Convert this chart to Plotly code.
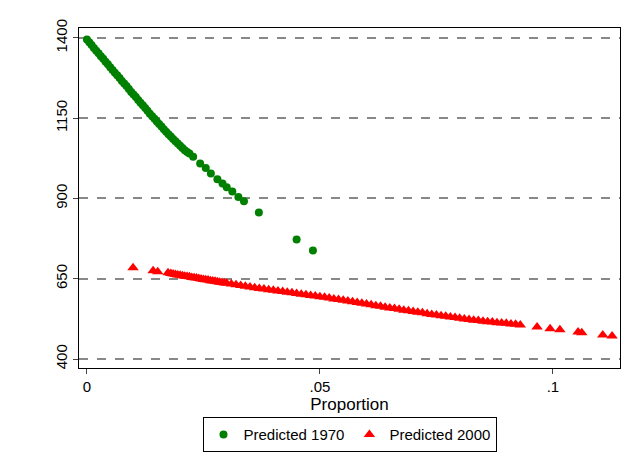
import plotly.graph_objects as go

g_x = [0,0.0005,0.001,0.0015,0.002,0.0025,0.003,0.0035,0.004,0.0045,0.005,0.0055,0.006,0.0065,0.007,0.0075,0.008,0.0085,0.009,0.0095,0.010,0.0105,0.011,0.0115,0.012,0.0125,0.013,0.0135,0.014,0.0145,0.015,0.0155,0.016,0.0165,0.017,0.0175,0.018,0.0185,0.019,0.0195,0.020,0.0205,0.021,0.0215,0.022,0.0228,0.0243,0.0255,0.0266,0.028,0.0291,0.030,0.0312,0.0325,0.0337,0.0369,0.045,0.0485]
g_y = [1395,1387,1378,1369,1360,1352,1343,1335,1326,1318,1309,1300,1292,1284,1275,1266,1258,1250,1241,1232,1224,1216,1207,1198,1190,1182,1173,1164,1156,1148,1140,1132,1124,1116,1108,1100,1093,1085,1078,1071,1064,1057,1050,1045,1040,1030,1009,995,978,960,947,935,922,905,891,856,772,738]

r_x = [0.0099,0.0142,0.0152,0.0174,
0.018,0.0185,0.019,0.0195,0.020,0.0205,0.021,0.0215,0.022,0.0225,0.023,0.0235,0.024,0.0245,0.025,0.0255,0.026,0.0265,0.027,0.0275,0.028,0.0285,0.029,0.0295,0.030,0.031,0.032,0.033,0.034,0.035,0.036,0.037,0.038,0.039,0.040,0.041,0.042,0.043,0.044,0.045,0.046,0.047,0.048,0.049,0.050,0.051,0.052,0.053,0.054,0.055,0.056,0.057,0.058,0.059,0.060,0.061,0.062,0.063,0.064,0.065,0.066,0.067,0.068,0.069,0.070,0.071,0.072,0.073,0.074,0.075,0.076,0.077,0.078,0.079,0.080,0.081,0.082,0.083,0.084,0.085,0.086,0.087,0.088,0.089,0.090,0.091,0.092,0.093,
0.0966,0.0994,0.1015,0.1054,0.1062,0.1107,0.1127]
r_y = [684,675,672,669,
666,665,663,662,661,659,658,657,656,654,653,652,651,649,648,647,646,644,643,642,641,639,638,637,636,634,631,629,627,624,622,620,618,616,614,612,610,608,606,604,602,600,598,596,594,592,590,587,585,583,581,578,576,574,571,569,566,564,561,559,557,555,552,550,548,546,544,541,539,537,535,533,531,529,527,525,523,521,520,518,516,515,513,512,511,509,508,506,
500,494,491,484,482,475,472]

x_ticks = [0, 0.05, 0.1]
x_labels = ["0", ".05", ".1"]
y_ticks = [400, 650, 900, 1150, 1400]

fig = go.Figure()
fig.add_trace(go.Scatter(x=g_x, y=g_y, mode="markers", name="Predicted 1970",
                         marker=dict(color="#008000", size=8, symbol="circle")))
fig.add_trace(go.Scatter(x=r_x, y=r_y, mode="markers", name="Predicted 2000",
                         marker=dict(color="#ff0000", size=10, symbol="triangle-up")))
fig.update_layout(
    width=627, height=446, plot_bgcolor="white", paper_bgcolor="white",
    margin=dict(l=71, r=15, t=20, b=86, autoexpand=False),
    font=dict(family="Liberation Sans, Arial", size=14, color="black"),
    legend=dict(orientation="h", x=0.5, xanchor="center", y=-0.145, yanchor="top",
                bordercolor="black", borderwidth=1, font=dict(size=15),
                itemwidth=30, tracegroupgap=0),
    showlegend=True,
)
fig.update_xaxes(range=[-0.0017, 0.1144], tickvals=x_ticks, ticktext=x_labels,
                 ticks="outside", ticklen=5, showgrid=False, zeroline=False,
                 showline=True, linecolor="black", mirror=True, automargin=False,
                 tickfont=dict(size=15),
                 title=dict(text="Proportion", standoff=0))
fig.update_yaxes(range=[372, 1431], tickvals=y_ticks, tickangle=-90,
                 ticks="outside", ticklen=5, showgrid=True, gridcolor="#888888",
                 griddash="dash", gridwidth=1.5, zeroline=False, automargin=False,
                 tickfont=dict(size=15),
                 showline=True, linecolor="black", mirror=True)
fig.write_html("out.html")
